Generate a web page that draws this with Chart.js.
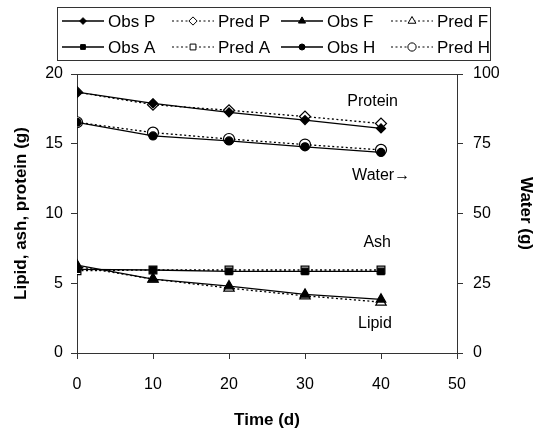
<!DOCTYPE html>
<html>
<head>
<meta charset="utf-8">
<script src="https://cdn.jsdelivr.net/npm/chart.js@4/dist/chart.umd.min.js"></script>
<style>
  html, body { margin: 0; padding: 0; background: #fff; }
  #wrap { width: 551px; height: 431px; }
</style>
</head>
<body>
<div id="wrap"><canvas id="chart" width="551" height="431"></canvas></div>
<script>
// Body composition over time, observed vs predicted
const timeDays = [0, 10, 20, 30, 40];

const obsProtein = [18.7, 17.9, 17.25, 16.7, 16.1];
const predProtein = [18.7, 17.8, 17.4, 16.95, 16.45];
const obsLipid = [6.3, 5.3, 4.8, 4.2, 3.85];
const predLipid = [6.2, 5.3, 4.65, 4.1, 3.65];
const obsAsh = [6.0, 5.95, 5.85, 5.85, 5.85];
const predAsh = [5.9, 5.95, 5.95, 5.95, 5.95];
const obsWater = [82.7, 77.8, 76.0, 73.9, 71.9];
const predWater = [82.7, 79.0, 76.7, 74.7, 72.8];

const leftTicks = [0, 5, 10, 15, 20];
const rightTicks = [0, 25, 50, 75, 100];
const xTicks = [0, 10, 20, 30, 40, 50];

const FONT = "'Liberation Sans', Arial, Helvetica, sans-serif";

function pts(values) {
  return timeDays.map((t, i) => ({ x: t, y: values[i] }));
}

function series(label, values, style, filled, radius, axis) {
  return {
    label: label,
    data: pts(values),
    yAxisID: axis,
    borderColor: '#000',
    borderWidth: 1.3,
    borderDash: filled ? [] : [2, 2.5],
    pointStyle: style,
    pointRadius: radius,
    pointBorderWidth: 1.2,
    pointBorderColor: '#000',
    pointBackgroundColor: filled ? '#000' : '#fff',
    order: filled ? 0 : 1,
    fill: false,
    tension: 0
  };
}

const datasets = [
  series('Obs P', obsProtein, 'rectRot', true, 4.5, 'y'),
  series('Pred P', predProtein, 'rectRot', false, 5.5, 'y'),
  series('Obs F', obsLipid, 'triangle', true, 5.5, 'y'),
  series('Pred F', predLipid, 'triangle', false, 6, 'y'),
  series('Obs A', obsAsh, 'rect', true, 4.5, 'y'),
  series('Pred A', predAsh, 'rect', false, 5.5, 'y'),
  series('Obs H', obsWater, 'circle', true, 4, 'y1'),
  series('Pred H', predWater, 'circle', false, 5.5, 'y1')
];

// Legend drawn by hand: line sample + marker + text, two rows of four
const legendPlugin = {
  id: 'boxLegend',
  afterDraw(chart) {
    const ctx = chart.ctx;
    const box = { x: 57, y: 7, w: 433, h: 53 };
    ctx.save();
    ctx.strokeStyle = '#333';
    ctx.lineWidth = 1;
    ctx.strokeRect(box.x + 0.5, box.y + 0.5, box.w, box.h);
    const colX = [62, 172, 281, 391];
    const rowY = [21, 47];
    ctx.font = '17px ' + FONT;
    ctx.textBaseline = 'middle';
    ctx.textAlign = 'left';
    datasets.forEach((ds, i) => {
      const x = colX[i % 4];
      const y = rowY[Math.floor(i / 4)];
      const len = 42;
      ctx.beginPath();
      ctx.setLineDash(ds.borderDash);
      ctx.strokeStyle = '#000';
      ctx.lineWidth = ds.borderDash.length ? 1 : 1.3;
      ctx.moveTo(x, y);
      ctx.lineTo(x + len, y);
      ctx.stroke();
      ctx.setLineDash([]);
      ctx.fillStyle = ds.pointBackgroundColor;
      ctx.strokeStyle = '#000';
      ctx.lineWidth = 1;
      Chart.helpers.drawPoint(ctx, {
        pointStyle: ds.pointStyle,
        radius: ds.pointRadius * 0.75,
        rotation: 0,
        borderWidth: 1
      }, x + len / 2, y);
      ctx.fillStyle = '#000';
      ctx.fillText(ds.label, x + len + 4, y + 1);
    });
    ctx.restore();
  }
};

// Plot frame plus the labels next to the curves
const framePlugin = {
  id: 'frame',
  afterDraw(chart) {
    const { ctx, chartArea, scales } = chart;
    ctx.save();
    ctx.strokeStyle = '#333';
    ctx.lineWidth = 1;
    ctx.beginPath();
    ctx.moveTo(chartArea.left, chartArea.top + 0.5);
    ctx.lineTo(chartArea.right, chartArea.top + 0.5);
    ctx.stroke();

    ctx.fillStyle = '#000';
    ctx.font = '16px ' + FONT;
    ctx.textBaseline = 'middle';
    const put = (txt, xv, yv, align) => {
      ctx.textAlign = align;
      ctx.fillText(txt, scales.x.getPixelForValue(xv), scales.y.getPixelForValue(yv));
    };
    put('Protein', 38.9, 18.0, 'center');
    put('Water\u2192', 36.2, 12.75, 'left');
    put('Ash', 39.5, 7.9, 'center');
    put('Lipid', 39.2, 2.1, 'center');
    ctx.restore();
  }
};

const tickFont = { family: FONT, size: 16 };
const titleFont = { family: FONT, size: 17, weight: 'bold' };
const gridOpts = { drawOnChartArea: false, drawTicks: true, tickLength: 6, color: '#333' };

new Chart(document.getElementById('chart'), {
  type: 'line',
  data: { datasets: datasets },
  options: {
    responsive: false,
    animation: false,
    layout: { padding: { top: 74, left: 0, right: 0, bottom: 0 } },
    plugins: {
      legend: { display: false },
      tooltip: { enabled: false }
    },
    scales: {
      x: {
        type: 'linear',
        min: 0,
        max: 50,
        afterBuildTicks: (s) => { s.ticks = xTicks.map(v => ({ value: v })); },
        afterFit: (s) => { s.height = 78; },
        border: { color: '#333', width: 1 },
        grid: gridOpts,
        ticks: { color: '#000', font: tickFont, padding: 16, maxRotation: 0 },
        title: { display: true, text: 'Time (d)', color: '#000', font: titleFont, padding: { top: 0, bottom: 0 } }
      },
      y: {
        position: 'left',
        min: 0,
        max: 20,
        afterBuildTicks: (s) => { s.ticks = leftTicks.map(v => ({ value: v })); },
        afterFit: (s) => { s.width = 77; },
        border: { color: '#333', width: 1 },
        grid: gridOpts,
        ticks: { color: '#000', font: tickFont, padding: 8 },
        title: { display: true, text: 'Lipid, ash, protein (g)', color: '#000', font: titleFont, padding: { top: 11, bottom: 0 } }
      },
      y1: {
        position: 'right',
        min: 0,
        max: 100,
        afterBuildTicks: (s) => { s.ticks = rightTicks.map(v => ({ value: v })); },
        afterFit: (s) => { s.width = 94; },
        border: { color: '#333', width: 1 },
        grid: gridOpts,
        ticks: { color: '#000', font: tickFont, padding: 10 },
        title: { display: true, text: 'Water (g)', color: '#000', font: titleFont, padding: { top: 15, bottom: 0 } }
      }
    }
  },
  plugins: [legendPlugin, framePlugin]
});
</script>
</body>
</html>
